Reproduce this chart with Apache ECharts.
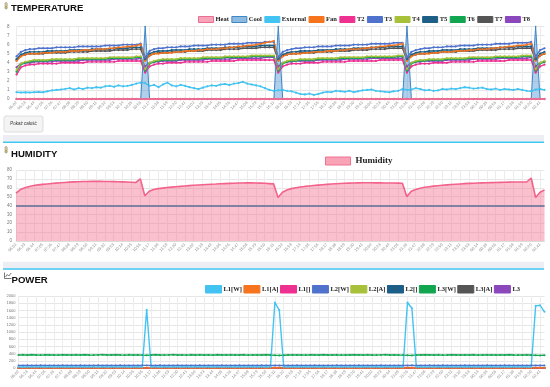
<!DOCTYPE html>
<html><head><meta charset="utf-8">
<script src="https://cdn.jsdelivr.net/npm/echarts@6/dist/echarts.min.js"></script>
<style>html,body{margin:0;padding:0;background:#fff}#c{width:550px;height:387px}</style>
</head><body><div id="c"></div>
<script>
const times = [
'06:02','06:12','06:23','06:33','06:44','06:54','07:05','07:15','07:26','07:36',
'07:47','07:57','08:08','08:18','08:29','08:39','08:50','09:00','09:11','09:21',
'09:32','09:42','09:53','10:03','10:14','10:24','10:35','10:45','10:56','11:06',
'11:17','11:27','11:38','11:48','11:59','12:09','12:20','12:30','12:41','12:51',
'13:02','13:12','13:23','13:33','13:44','13:54','14:05','14:15','14:26','14:36',
'14:47','14:57','15:08','15:18','15:29','15:39','15:50','16:00','16:11','16:21',
'16:32','16:42','16:53','17:03','17:14','17:24','17:35','17:45','17:56','18:06',
'18:17','18:27','18:38','18:48','18:59','19:09','19:20','19:30','19:41','19:51',
'20:02','20:12','20:23','20:33','20:44','20:54','21:05','21:15','21:26','21:36',
'21:47','21:57','22:08','22:18','22:29','22:39','22:50','23:00','23:11','23:21',
'23:32','23:42','23:53','00:03','00:14','00:24','00:35','00:45','00:56','01:06',
'01:17','01:27','01:38','01:48','01:59','02:09','02:20','02:30','02:41','02:51'];

const tempTicks = [0,1,2,3,4,5,6,7,8];
const humTicks = [0,10,20,30,40,50,60,70,80];
const powTicks = [0,200,400,600,800,1000,1200,1400,1600,1800,2000];
const humThreshold = 40;

const heat = [
0,0,0,0,0,0,0,0,0,0, 0,0,0,0,0,0,0,0,0,0, 0,0,0,0,0,0,0,0,0,0,
0,0,0,0,0,0,0,0,0,0, 0,0,0,0,0,0,0,0,0,0, 0,0,0,0,0,0,0,0,0,0,
0,0,0,0,0,0,0,0,0,0, 0,0,0,0,0,0,0,0,0,0, 0,0,0,0,0,0,0,0,0,0,
0,0,0,0,0,0,0,0,0,0, 0,0,0,0,0,0,0,0,0,0, 0,0,0,0,0,0,0,0,0,0];
const cool = [
0,0,0,0,0,0,0,0,0,0, 0,0,0,0,0,0,0,0,0,0, 0,0,0,0,0,0,0,0,0,8,
0,0,0,0,0,0,0,0,0,0, 0,0,0,0,0,0,0,0,0,0, 0,0,0,0,0,0,0,0,0,8,
0,0,0,0,0,0,0,0,0,0, 0,0,0,0,0,0,0,0,0,0, 0,0,0,0,0,0,0,0,8,0,
0,0,0,0,0,0,0,0,0,0, 0,0,0,0,0,0,0,0,0,0, 0,0,0,0,0,0,0,8,0,0];
const external = [
0.75,0.72,0.74,0.72,0.75,0.78,0.74,0.85,0.95,1.0, 1.05,1.12,1.2,1.05,1.2,1.1,1.25,1.2,1.3,1.25, 1.4,1.45,1.35,1.5,1.4,1.45,1.55,1.7,1.8,
1.75,1.45,1.55,1.3,1.6,1.8,1.5,1.4,1.55,1.45, 1.3,1.2,1.1,1.25,1.4,1.5,1.45,1.6,1.65,1.55, 1.7,1.75,1.9,1.7,1.6,1.5,1.4,1.2,1.0,0.9,
0.95,1.0,0.9,0.85,0.7,0.55,0.5,0.6,0.45,0.55, 0.7,0.8,0.75,0.9,0.85,0.8,0.9,0.75,0.85,0.95, 1.0,1.05,0.9,0.85,0.8,0.75,0.85,0.9,1.1,
1.0,1.05,1.2,1.1,0.95,1.0,0.9,0.95,1.1,1.05, 1.15,1.1,1.2,1.3,1.25,1.15,1.2,1.25,1.1,1.05, 1.15,1.0,1.1,1.05,1.0,1.1,1.0,0.9,0.85,
1.05,1.1,1.0];
const fan = [
4.2,4.7,4.9,5.0,5.0,5.0,5.1,5.1,5.1,5.2, 5.2,5.2,5.3,5.3,5.3,5.4,5.4,5.4,5.5,5.5, 5.5,5.6,5.6,5.7,5.7,5.8,5.8,5.9,6.0,
4.2,4.8,5.0,5.0,5.1,5.1,5.1,5.2,5.2,5.3, 5.3,5.3,5.4,5.4,5.5,5.5,5.5,5.6,5.6,5.7, 5.7,5.8,5.8,5.9,5.9,6.0,6.1,6.2,6.3,6.4,
4.2,4.7,4.9,5.0,5.0,5.0,5.1,5.1,5.2,5.2, 5.2,5.3,5.3,5.3,5.4,5.4,5.5,5.5,5.5,5.6, 5.6,5.7,5.7,5.8,5.8,5.9,5.9,6.0,6.1,
4.2,4.7,4.9,5.0,5.0,5.0,5.1,5.1,5.2,5.2, 5.2,5.3,5.3,5.3,5.4,5.4,5.5,5.5,5.5,5.6, 5.6,5.7,5.7,5.8,5.8,5.9,5.9,6.0,6.1,
4.2,4.8,5.0];
const t2 = [
2.7,3.5,3.7,3.8,3.8,3.9,3.9,3.9,3.9,3.9, 4.0,4.0,4.0,4.0,4.0,4.0,4.1,4.1,4.1,4.1, 4.1,4.1,4.1,4.2,4.2,4.2,4.2,4.2,4.2,
2.9,3.6,3.8,3.9,3.9,4.0,4.0,4.0,4.0,4.1, 4.1,4.1,4.1,4.1,4.1,4.2,4.2,4.2,4.2,4.2, 4.2,4.3,4.3,4.3,4.3,4.3,4.3,4.3,4.3,4.3,
2.9,3.6,3.8,3.9,3.9,3.9,4.0,4.0,4.0,4.0, 4.1,4.1,4.1,4.1,4.1,4.1,4.2,4.2,4.2,4.2, 4.2,4.2,4.2,4.3,4.3,4.3,4.3,4.3,4.3,
2.9,3.6,3.8,3.9,3.9,3.9,4.0,4.0,4.0,4.0, 4.1,4.1,4.1,4.1,4.1,4.1,4.2,4.2,4.2,4.2, 4.2,4.2,4.2,4.3,4.3,4.3,4.3,4.3,4.3,
2.9,3.6,3.8];
const t3 = [
4.7,5.2,5.4,5.5,5.5,5.6,5.6,5.6,5.6,5.7, 5.7,5.7,5.7,5.7,5.8,5.8,5.8,5.8,5.8,5.8, 5.9,5.9,5.9,5.9,6.0,6.0,6.0,6.0,6.1,
4.6,5.3,5.5,5.6,5.6,5.7,5.7,5.7,5.8,5.8, 5.8,5.9,5.9,5.9,5.9,6.0,6.0,6.0,6.0,6.1, 6.1,6.1,6.1,6.2,6.2,6.2,6.2,6.3,6.3,6.3,
4.6,5.2,5.4,5.5,5.6,5.6,5.7,5.7,5.7,5.8, 5.8,5.8,5.8,5.9,5.9,5.9,5.9,6.0,6.0,6.0, 6.0,6.1,6.1,6.1,6.1,6.1,6.2,6.2,6.2,
4.6,5.2,5.4,5.5,5.6,5.6,5.7,5.7,5.7,5.8, 5.8,5.8,5.9,5.9,5.9,5.9,6.0,6.0,6.0,6.0, 6.1,6.1,6.1,6.1,6.2,6.2,6.2,6.2,6.3,
4.7,5.4,5.6];
const t4 = [
3.2,3.9,4.1,4.2,4.3,4.3,4.3,4.3,4.4,4.4, 4.4,4.4,4.4,4.4,4.5,4.5,4.5,4.5,4.5,4.5, 4.5,4.6,4.6,4.6,4.6,4.6,4.6,4.7,4.7,
3.3,4.0,4.2,4.3,4.4,4.4,4.4,4.4,4.5,4.5, 4.5,4.5,4.5,4.6,4.6,4.6,4.6,4.6,4.7,4.7, 4.7,4.7,4.7,4.7,4.8,4.8,4.8,4.8,4.8,4.8,
3.3,4.0,4.2,4.3,4.3,4.4,4.4,4.4,4.4,4.5, 4.5,4.5,4.5,4.5,4.6,4.6,4.6,4.6,4.6,4.6, 4.7,4.7,4.7,4.7,4.7,4.7,4.7,4.8,4.8,
3.3,4.0,4.2,4.3,4.3,4.4,4.4,4.4,4.4,4.5, 4.5,4.5,4.5,4.5,4.6,4.6,4.6,4.6,4.6,4.6, 4.7,4.7,4.7,4.7,4.7,4.7,4.8,4.8,4.8,
3.3,4.0,4.2];
const t5 = [
4.4,4.9,5.1,5.2,5.2,5.2,5.2,5.3,5.3,5.3, 5.3,5.3,5.4,5.4,5.4,5.4,5.4,5.5,5.5,5.5, 5.5,5.5,5.6,5.6,5.6,5.6,5.7,5.7,5.7,
4.4,5.0,5.2,5.3,5.3,5.3,5.4,5.4,5.4,5.4, 5.5,5.5,5.5,5.5,5.6,5.6,5.6,5.6,5.7,5.7, 5.7,5.7,5.8,5.8,5.8,5.8,5.9,5.9,5.9,5.9,
4.4,4.9,5.1,5.2,5.2,5.3,5.3,5.3,5.3,5.4, 5.4,5.4,5.4,5.5,5.5,5.5,5.5,5.6,5.6,5.6, 5.6,5.7,5.7,5.7,5.7,5.8,5.8,5.8,5.8,
4.4,4.9,5.1,5.2,5.2,5.3,5.3,5.3,5.4,5.4, 5.4,5.4,5.5,5.5,5.5,5.5,5.6,5.6,5.6,5.6, 5.6,5.7,5.7,5.7,5.7,5.8,5.8,5.8,5.8,
4.4,5.0,5.2];
const t6 = [
3.0,3.8,4.0,4.1,4.2,4.2,4.2,4.2,4.3,4.3, 4.3,4.3,4.3,4.3,4.4,4.4,4.4,4.4,4.4,4.4, 4.4,4.5,4.5,4.5,4.5,4.5,4.5,4.6,4.6,
3.1,3.9,4.1,4.2,4.3,4.3,4.3,4.3,4.4,4.4, 4.4,4.4,4.4,4.5,4.5,4.5,4.5,4.5,4.6,4.6, 4.6,4.6,4.6,4.6,4.7,4.7,4.7,4.7,4.7,4.7,
3.1,3.9,4.1,4.2,4.2,4.3,4.3,4.3,4.3,4.4, 4.4,4.4,4.4,4.4,4.5,4.5,4.5,4.5,4.5,4.5, 4.6,4.6,4.6,4.6,4.6,4.6,4.6,4.7,4.7,
3.1,3.9,4.1,4.2,4.2,4.3,4.3,4.3,4.3,4.4, 4.4,4.4,4.4,4.4,4.5,4.5,4.5,4.5,4.5,4.5, 4.6,4.6,4.6,4.6,4.6,4.6,4.7,4.7,4.7,
3.1,3.9,4.1];
const t7 = [
4.3,4.8,4.9,5.0,5.0,5.0,5.0,5.1,5.1,5.1, 5.1,5.1,5.2,5.2,5.2,5.2,5.2,5.3,5.3,5.3, 5.3,5.3,5.4,5.4,5.4,5.4,5.5,5.5,5.5,
4.3,4.8,5.0,5.1,5.1,5.1,5.2,5.2,5.2,5.2, 5.3,5.3,5.3,5.3,5.4,5.4,5.4,5.4,5.5,5.5, 5.5,5.5,5.6,5.6,5.6,5.6,5.7,5.7,5.7,5.7,
4.3,4.8,4.9,5.0,5.0,5.1,5.1,5.1,5.1,5.2, 5.2,5.2,5.2,5.3,5.3,5.3,5.3,5.4,5.4,5.4, 5.4,5.5,5.5,5.5,5.5,5.6,5.6,5.6,5.6,
4.3,4.8,4.9,5.0,5.0,5.1,5.1,5.1,5.2,5.2, 5.2,5.2,5.3,5.3,5.3,5.3,5.4,5.4,5.4,5.4, 5.4,5.5,5.5,5.5,5.5,5.6,5.6,5.6,5.6,
4.3,4.8,5.0];
const t8 = [
3.5,3.9,4.0,4.0,4.1,4.1,4.1,4.1,4.1,4.2, 4.2,4.2,4.2,4.2,4.2,4.3,4.3,4.3,4.3,4.3, 4.3,4.3,4.4,4.4,4.4,4.4,4.4,4.4,4.5,
3.6,4.0,4.1,4.1,4.2,4.2,4.2,4.2,4.3,4.3, 4.3,4.3,4.3,4.3,4.4,4.4,4.4,4.4,4.4,4.4, 4.5,4.5,4.5,4.5,4.5,4.5,4.5,4.6,4.6,4.6,
3.6,4.0,4.1,4.1,4.2,4.2,4.2,4.2,4.2,4.3, 4.3,4.3,4.3,4.3,4.3,4.4,4.4,4.4,4.4,4.4, 4.4,4.5,4.5,4.5,4.5,4.5,4.5,4.5,4.5,
3.6,4.0,4.1,4.1,4.2,4.2,4.2,4.2,4.2,4.3, 4.3,4.3,4.3,4.3,4.3,4.4,4.4,4.4,4.4,4.4, 4.4,4.5,4.5,4.5,4.5,4.5,4.5,4.5,4.6,
3.6,4.0,4.1];

const humidity = [
54,58,60,61.5,62.5,63.2,63.8,64.3,64.8,65.2, 65.6,66,66.3,66.6,66.8,67,67.1,67.2,67.2,67.2, 67.1,67,66.9,66.8,66.6,66.4,66.2,66,70,
51,56,58,59,59.6,60.2,60.7,61.2,61.6,62, 62.4,62.8,63.1,63.4,63.7,64,64.2,64.5,64.7,64.9, 65.1,65.3,65.4,65.5,65.5,65.4,65.2,65,64.7,64.4,
49,55,57.5,59,60,60.8,61.5,62,62.5,63, 63.4,63.8,64.2,64.5,64.8,65,65.2,65.4,65.5,65.6, 65.6,65.6,65.5,65.5,65.4,65.4,65.3,65.2,65.1,50,
56,58,59.5,60.5,61.2,61.8,62.3,62.8,63.2,63.6, 64,64.3,64.6,64.9,65.1,65.3,65.5,65.7,65.8,65.9, 66.1,66.2,66.3,66.4,66.4,66.5,66.5,71,
49,55,57.5];

const l1w = [
28,30,27,29,31,28,26,30,29,27, 30,28,29,31,27,28,30,29,26,28, 31,29,27,30,28,29,27,30,28,1620,
30,28,29,27,31,28,30,29,27,28, 30,29,28,31,27,29,30,28,26,29, 31,28,30,27,29,28,30,29,1820,1610,
29,28,30,27,31,29,28,30,27,29, 28,30,29,31,27,28,30,29,28,27, 30,29,28,31,27,29,30,28,1820,1660,
29,31,27,30,28,29,27,30,28,29, 31,28,30,27,29,28,30,29,27,28, 30,29,28,31,27,29,28,1730,1740,1560];
const l1a = [
0.2,0.2,0.2,0.2,0.2,0.2,0.2,0.2,0.2,0.2, 0.2,0.2,0.2,0.2,0.2,0.2,0.2,0.2,0.2,0.2, 0.2,0.2,0.2,0.2,0.2,0.2,0.2,0.2,0.2,7.3,
0.2,0.2,0.2,0.2,0.2,0.2,0.2,0.2,0.2,0.2, 0.2,0.2,0.2,0.2,0.2,0.2,0.2,0.2,0.2,0.2, 0.2,0.2,0.2,0.2,0.2,0.2,0.2,0.2,8.2,7.2,
0.2,0.2,0.2,0.2,0.2,0.2,0.2,0.2,0.2,0.2, 0.2,0.2,0.2,0.2,0.2,0.2,0.2,0.2,0.2,0.2, 0.2,0.2,0.2,0.2,0.2,0.2,0.2,0.2,8.2,7.4,
0.2,0.2,0.2,0.2,0.2,0.2,0.2,0.2,0.2,0.2, 0.2,0.2,0.2,0.2,0.2,0.2,0.2,0.2,0.2,0.2, 0.2,0.2,0.2,0.2,0.2,0.2,0.2,7.8,7.9,7.0];
const l1pf = [
0.9,0.9,0.9,0.9,0.9,0.9,0.9,0.9,0.9,0.9, 0.9,0.9,0.9,0.9,0.9,0.9,0.9,0.9,0.9,0.9, 0.9,0.9,0.9,0.9,0.9,0.9,0.9,0.9,0.9,1.0,
0.9,0.9,0.9,0.9,0.9,0.9,0.9,0.9,0.9,0.9, 0.9,0.9,0.9,0.9,0.9,0.9,0.9,0.9,0.9,0.9, 0.9,0.9,0.9,0.9,0.9,0.9,0.9,0.9,1.0,1.0,
0.9,0.9,0.9,0.9,0.9,0.9,0.9,0.9,0.9,0.9, 0.9,0.9,0.9,0.9,0.9,0.9,0.9,0.9,0.9,0.9, 0.9,0.9,0.9,0.9,0.9,0.9,0.9,0.9,1.0,1.0,
0.9,0.9,0.9,0.9,0.9,0.9,0.9,0.9,0.9,0.9, 0.9,0.9,0.9,0.9,0.9,0.9,0.9,0.9,0.9,0.9, 0.9,0.9,0.9,0.9,0.9,0.9,0.9,1.0,1.0,1.0];
const l2w = [
72,70,74,69,71,73,70,72,68,71, 73,70,72,69,74,71,70,72,73,69, 71,72,70,74,69,72,71,70,73,72,
70,71,73,69,72,70,74,71,69,72, 71,73,70,72,69,71,74,70,72,71, 73,69,72,70,71,74,70,72,71,70,
72,71,69,73,70,72,71,74,69,71, 70,72,73,71,69,72,70,74,71,72, 69,71,73,70,72,71,69,72,70,73,
71,70,72,74,69,71,73,70,72,71, 70,73,71,69,72,70,74,71,72,70, 73,71,70,72,69,71,73,70,72,71];
const l2a = [
0.4,0.4,0.4,0.4,0.4,0.4,0.4,0.4,0.4,0.4, 0.4,0.4,0.4,0.4,0.4,0.4,0.4,0.4,0.4,0.4, 0.4,0.4,0.4,0.4,0.4,0.4,0.4,0.4,0.4,0.4,
0.4,0.4,0.4,0.4,0.4,0.4,0.4,0.4,0.4,0.4, 0.4,0.4,0.4,0.4,0.4,0.4,0.4,0.4,0.4,0.4, 0.4,0.4,0.4,0.4,0.4,0.4,0.4,0.4,0.4,0.4,
0.4,0.4,0.4,0.4,0.4,0.4,0.4,0.4,0.4,0.4, 0.4,0.4,0.4,0.4,0.4,0.4,0.4,0.4,0.4,0.4, 0.4,0.4,0.4,0.4,0.4,0.4,0.4,0.4,0.4,0.4,
0.4,0.4,0.4,0.4,0.4,0.4,0.4,0.4,0.4,0.4, 0.4,0.4,0.4,0.4,0.4,0.4,0.4,0.4,0.4,0.4, 0.4,0.4,0.4,0.4,0.4,0.4,0.4,0.4,0.4,0.4];
const l2pf = [
0.8,0.8,0.8,0.8,0.8,0.8,0.8,0.8,0.8,0.8, 0.8,0.8,0.8,0.8,0.8,0.8,0.8,0.8,0.8,0.8, 0.8,0.8,0.8,0.8,0.8,0.8,0.8,0.8,0.8,0.8,
0.8,0.8,0.8,0.8,0.8,0.8,0.8,0.8,0.8,0.8, 0.8,0.8,0.8,0.8,0.8,0.8,0.8,0.8,0.8,0.8, 0.8,0.8,0.8,0.8,0.8,0.8,0.8,0.8,0.8,0.8,
0.8,0.8,0.8,0.8,0.8,0.8,0.8,0.8,0.8,0.8, 0.8,0.8,0.8,0.8,0.8,0.8,0.8,0.8,0.8,0.8, 0.8,0.8,0.8,0.8,0.8,0.8,0.8,0.8,0.8,0.8,
0.8,0.8,0.8,0.8,0.8,0.8,0.8,0.8,0.8,0.8, 0.8,0.8,0.8,0.8,0.8,0.8,0.8,0.8,0.8,0.8, 0.8,0.8,0.8,0.8,0.8,0.8,0.8,0.8,0.8,0.8];
const l3w = [
362,365,360,368,363,358,366,361,364,359, 367,362,360,365,363,369,361,358,364,366, 360,363,367,362,359,365,361,364,358,352,
360,366,362,358,364,368,361,363,359,366, 362,365,360,364,358,367,363,361,365,360, 362,366,359,364,361,363,367,360,352,350,
356,362,365,360,364,359,366,361,363,368, 360,362,365,359,364,361,367,363,360,365, 362,358,364,366,361,363,360,358,352,350,
364,361,366,360,363,365,359,362,367,361, 364,360,363,366,358,362,365,361,364,360, 363,367,361,359,364,362,360,352,350,354];
const l3a = [
1.7,1.7,1.7,1.7,1.7,1.7,1.7,1.7,1.7,1.7, 1.7,1.7,1.7,1.7,1.7,1.7,1.7,1.7,1.7,1.7, 1.7,1.7,1.7,1.7,1.7,1.7,1.7,1.7,1.7,1.7,
1.7,1.7,1.7,1.7,1.7,1.7,1.7,1.7,1.7,1.7, 1.7,1.7,1.7,1.7,1.7,1.7,1.7,1.7,1.7,1.7, 1.7,1.7,1.7,1.7,1.7,1.7,1.7,1.7,1.7,1.7,
1.7,1.7,1.7,1.7,1.7,1.7,1.7,1.7,1.7,1.7, 1.7,1.7,1.7,1.7,1.7,1.7,1.7,1.7,1.7,1.7, 1.7,1.7,1.7,1.7,1.7,1.7,1.7,1.7,1.7,1.7,
1.7,1.7,1.7,1.7,1.7,1.7,1.7,1.7,1.7,1.7, 1.7,1.7,1.7,1.7,1.7,1.7,1.7,1.7,1.7,1.7, 1.7,1.7,1.7,1.7,1.7,1.7,1.7,1.7,1.7,1.7];
const l3pf = [
0.9,0.9,0.9,0.9,0.9,0.9,0.9,0.9,0.9,0.9, 0.9,0.9,0.9,0.9,0.9,0.9,0.9,0.9,0.9,0.9, 0.9,0.9,0.9,0.9,0.9,0.9,0.9,0.9,0.9,0.9,
0.9,0.9,0.9,0.9,0.9,0.9,0.9,0.9,0.9,0.9, 0.9,0.9,0.9,0.9,0.9,0.9,0.9,0.9,0.9,0.9, 0.9,0.9,0.9,0.9,0.9,0.9,0.9,0.9,0.9,0.9,
0.9,0.9,0.9,0.9,0.9,0.9,0.9,0.9,0.9,0.9, 0.9,0.9,0.9,0.9,0.9,0.9,0.9,0.9,0.9,0.9, 0.9,0.9,0.9,0.9,0.9,0.9,0.9,0.9,0.9,0.9,
0.9,0.9,0.9,0.9,0.9,0.9,0.9,0.9,0.9,0.9, 0.9,0.9,0.9,0.9,0.9,0.9,0.9,0.9,0.9,0.9, 0.9,0.9,0.9,0.9,0.9,0.9,0.9,0.9,0.9,0.9];

const tempNames = ['Heat','Cool','External','Fan','T2','T3','T4','T5','T6','T7','T8'];
const tempData = [heat, cool, external, fan, t2, t3, t4, t5, t6, t7, t8];
const tempColors = ['#ea6d94','#3f86c8','#42c3f2','#f7741e','#ee3090','#4f72cc','#a7c23a','#1d5f86','#12a650','#555555','#8b48bd'];
const tempFills = ['#f7a3b8','#8dbbe0','#42c3f2','#f7741e','#ee3090','#4f72cc','#a7c23a','#1d5f86','#12a650','#555555','#8b48bd'];
const powNames = ['L1[W]','L1[A]','L1[]','L2[W]','L2[A]','L2[]','L3[W]','L3[A]','L3'];
const powData = [l1w, l1a, l1pf, l2w, l2a, l2pf, l3w, l3a, l3pf];
const powColors = ['#42c3f2','#f7741e','#ee3090','#4f72cc','#a7c23a','#1d5f86','#12a650','#555555','#8b48bd'];

const FONT = 'Liberation Sans';
function xAxisFor(gi) {
  return {type:'category', gridIndex:gi, data:times, boundaryGap:false,
    axisLine:{show:true, lineStyle:{color:'#dcdcdc'}}, axisTick:{show:false},
    axisLabel:{interval:1, rotate:45, fontSize:4, color:'#8a8a8a', margin:3, fontFamily:FONT},
    splitLine:{show:true, interval:1, lineStyle:{color:'#ececec', width:1}}};
}
function yAxisFor(gi, ticks, margin, fs) {
  return {type:'value', gridIndex:gi, min:ticks[0], max:ticks[ticks.length-1], interval:ticks[1]-ticks[0],
    axisLine:{show:false}, axisTick:{show:false},
    axisLabel:{fontSize:fs, color:'#777', margin:margin, fontFamily:FONT, formatter:(v)=>String(v)},
    splitLine:{lineStyle:{color:'#e6e6e6', width:1}}};
}

const series = [];
for (let i = tempNames.length - 1; i >= 0; i--) {
  const s = {name:tempNames[i], type:'line', xAxisIndex:0, yAxisIndex:0, data:tempData[i],
    symbol:'circle', symbolSize:2.2, showAllSymbol:true,
    lineStyle:{width:1.4, color:tempColors[i]}, itemStyle:{color:tempColors[i]}};
  if (tempNames[i] === 'Cool') { s.areaStyle = {color:'rgba(74,144,208,0.62)'}; s.lineStyle.width = 1; s.symbolSize = 1.5; }
  if (tempNames[i] === 'Heat') { s.lineStyle.width = 2; s.symbolSize = 2.6; }
  series.push(s);
}
series.push({name:'Humidity', type:'line', xAxisIndex:1, yAxisIndex:1, data:humidity, symbol:'none',
  lineStyle:{width:1.6, color:'#f2628a'}, itemStyle:{color:'#f2628a'}, areaStyle:{color:'rgba(246,110,142,0.62)'},
  markLine:{silent:true, symbol:'none', label:{show:false}, lineStyle:{color:'#7f80a4', width:2, type:'solid'}, data:[{yAxis:humThreshold}]}});
for (let i = powNames.length - 1; i >= 0; i--) {
  series.push({name:powNames[i], type:'line', xAxisIndex:2, yAxisIndex:2, data:powData[i],
    symbol:'circle', symbolSize:2, showAllSymbol:true,
    lineStyle:{width:1.4, color:powColors[i]}, itemStyle:{color:powColors[i]}});
}

const legendText = (fs) => ({fontFamily:'Liberation Serif', fontWeight:'bold', fontSize:fs, color:'#222', padding:[0,0,0,-3]});

const option = {
  animation:false,
  backgroundColor:'#ffffff',
  textStyle:{fontFamily:FONT},
  grid:[
    {left:16.5, right:5.5, top:26.5, height:72.5, outerBoundsMode:'none'},
    {left:16, right:5.5, top:170, height:71, outerBoundsMode:'none'},
    {left:18.5, right:5.5, top:296, height:72, outerBoundsMode:'none'}
  ],
  xAxis:[xAxisFor(0), xAxisFor(1), xAxisFor(2)],
  yAxis:[yAxisFor(0, tempTicks, 7, 4.5), yAxisFor(1, humTicks, 4, 4.5), yAxisFor(2, powTicks, 3, 4)],
  legend:[
    {data:tempNames.map((n,i)=>({name:n, itemStyle:{color:tempFills[i], borderColor:tempColors[i], borderWidth:1}})),
     left:198, top:16, padding:0, itemWidth:15, itemHeight:6, itemGap:2.5, icon:'rect', selectedMode:false, textStyle:legendText(6.5)},
    {data:[{name:'Humidity', itemStyle:{color:'#f9a3b7', borderColor:'#f0718f', borderWidth:1}}],
     left:325, top:156.5, padding:0, itemWidth:25, itemHeight:8, icon:'rect', selectedMode:false,
     textStyle:{fontFamily:'Liberation Serif', fontWeight:'bold', fontSize:9, color:'#222'}},
    {data:powNames.map((n,i)=>({name:n, itemStyle:{color:powColors[i], borderColor:powColors[i], borderWidth:1}})),
     left:205, top:285, padding:0, itemWidth:16, itemHeight:7.5, itemGap:1.5, icon:'rect', selectedMode:false, textStyle:legendText(6.5)}
  ],
  graphic:[
    {type:'rect', shape:{x:3, y:135, width:541, height:6.5}, style:{fill:'#eceef3'}},
    {type:'rect', shape:{x:3, y:141.5, width:541, height:1.5}, style:{fill:'#3ec5f0'}},
    {type:'rect', shape:{x:3, y:261.7, width:541, height:6.5}, style:{fill:'#eceef3'}},
    {type:'rect', shape:{x:3, y:268.2, width:541, height:1.5}, style:{fill:'#3ec5f0'}},
    {type:'rect', shape:{x:4, y:116, width:39, height:16, r:2}, style:{fill:'#f4f4f4', stroke:'#dedede', lineWidth:1}},
    {type:'text', x:23.5, y:124, style:{text:'Pokaż całość', fontSize:4.5, fontFamily:FONT, fill:'#333', align:'center', verticalAlign:'middle'}},
    {type:'text', x:11, y:8.5, style:{text:'TEMPERATURE', fontSize:9.6, fontWeight:'bold', fontFamily:FONT, fill:'#111', verticalAlign:'middle'}},
    {type:'text', x:11, y:154, style:{text:'HUMIDITY', fontSize:9.6, fontWeight:'bold', fontFamily:FONT, fill:'#111', verticalAlign:'middle'}},
    {type:'text', x:11.5, y:280, style:{text:'POWER', fontSize:9.6, fontWeight:'bold', fontFamily:FONT, fill:'#111', verticalAlign:'middle'}},
    {type:'rect', shape:{x:5, y:2.5, width:2.2, height:4.6, r:1}, style:{fill:'#e3d390', stroke:'#8a8a8a', lineWidth:0.6}},
    {type:'circle', shape:{cx:6.1, cy:7.8, r:1.3}, style:{fill:'#d4b850', stroke:'#8a8a8a', lineWidth:0.5}},
    {type:'rect', shape:{x:5, y:146.5, width:2.2, height:4.6, r:1}, style:{fill:'#e3d390', stroke:'#8a8a8a', lineWidth:0.6}},
    {type:'circle', shape:{cx:6.1, cy:151.8, r:1.3}, style:{fill:'#d4b850', stroke:'#8a8a8a', lineWidth:0.5}},
    {type:'polyline', shape:{points:[[4.5,272.5],[4.5,278.5],[11.5,278.5]]}, style:{stroke:'#555', lineWidth:0.8, fill:null}},
    {type:'polyline', shape:{points:[[5.5,277],[7.3,274.5],[8.8,276],[11.2,273]]}, style:{stroke:'#555', lineWidth:0.8, fill:null}}
  ],
  series:series
};
const chart = echarts.init(document.getElementById('c'), null, {renderer:'canvas'});
chart.setOption(option);
</script></body></html>
